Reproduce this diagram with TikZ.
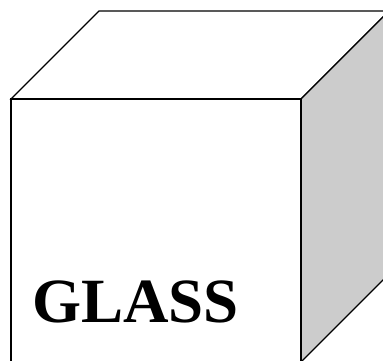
\documentclass[tikz,border=0pt]{standalone}
\usepackage{fontspec}
\setmainfont{Liberation Serif}
\begin{document}
\begin{tikzpicture}[x=1pt, y=-1pt,
    face/.style={draw, line width=1.2pt, line join=miter, fill=white},
    side/.style={face, fill=black!20}]
    \useasboundingbox (0,0) rectangle (383,360);
    \clip (0,0) rectangle (383,360);

    % cube faces
    \draw[face] (11,99) -- (99,11) -- (389,11) -- (301,99) -- cycle;
    \draw[side] (301,99) -- (389,11) -- (389,274) -- (301,362) -- cycle;
    \draw[face] (11,99) rectangle (301,362);

    \node[anchor=base west, inner sep=0pt, font=\bfseries\fontsize{63}{63}\selectfont] (glass) at (32,322) {GLASS};
\end{tikzpicture}
\end{document}
